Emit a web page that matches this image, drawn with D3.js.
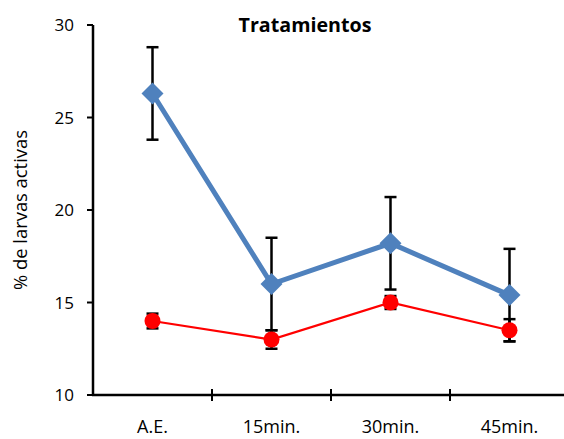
<!DOCTYPE html>
<html><head><meta charset="utf-8">
<script src="https://cdn.jsdelivr.net/npm/d3@7"></script>
<style>body{margin:0;background:#fff}text{font-family:"Open Sans",sans-serif}</style>
</head><body>
<script>
const categories = ["A.E.", "15min.", "30min.", "45min."];
const seriesBlue = [26.3, 16.0, 18.2, 15.4];
const errBlue = [2.5, 2.5, 2.5, 2.5];
const seriesRed = [14.0, 13.0, 15.0, 13.5];
const errRed = [0.4, 0.5, 0.35, 0.6];
const yTicks = [10, 15, 20, 25, 30];

const W = 564, H = 439;
const svg = d3.select("body").append("svg").attr("width", W).attr("height", H);
const x = d3.scaleBand().domain(categories).range([93, 569]);
const y = d3.scaleLinear().domain([10, 30]).range([395, 25]);
const cx = d => x(d) + x.bandwidth() / 2;

function fit(sel, target) {
  const n = sel.node(); const L = n.getComputedTextLength();
  const fs = parseFloat(sel.attr("font-size"));
  sel.attr("font-size", (fs * target / L).toFixed(2));
}

// y axis
svg.append("line").attr("x1", 93).attr("x2", 93).attr("y1", 25).attr("y2", 395).attr("stroke", "#000").attr("stroke-width", 2.5);
svg.selectAll(".yt").data(yTicks).enter().append("line")
  .attr("x1", 87).attr("x2", 93).attr("y1", d => y(d)).attr("y2", d => y(d)).attr("stroke", "#000").attr("stroke-width", 2);
svg.selectAll(".yl").data(yTicks).enter().append("text")
  .attr("x", 74).attr("y", d => y(d) + 6).attr("text-anchor", "end").attr("font-size", 17).text(d => d);
// x axis
svg.append("line").attr("x1", 92).attr("x2", 569).attr("y1", 395).attr("y2", 395).attr("stroke", "#000").attr("stroke-width", 2.5);
const bounds = categories.map(c => x(c)).slice(1);
svg.selectAll(".xt").data(bounds).enter().append("line")
  .attr("x1", d => d).attr("x2", d => d).attr("y1", 389).attr("y2", 401).attr("stroke", "#000").attr("stroke-width", 2);
svg.selectAll(".xl").data(categories).enter().append("text")
  .attr("x", d => cx(d)).attr("y", 433).attr("text-anchor", "middle").attr("font-size", 18).text(d => d);

// title & y label
const t = svg.append("text").attr("x", 305).attr("y", 32).attr("text-anchor", "middle").attr("font-size", 18).attr("font-weight", "bold").text("Tratamientos");
fit(t, 133);
const yl = svg.append("text").attr("transform", "translate(27,210) rotate(-90)").attr("text-anchor", "middle").attr("font-size", 17).text("% de larvas activas");
fit(yl, 160);

function errbars(vals, errs) {
  const g = svg.append("g");
  categories.forEach((c, i) => {
    const X = cx(c), top = y(vals[i] + errs[i]), bot = y(vals[i] - errs[i]);
    g.append("line").attr("x1", X).attr("x2", X).attr("y1", top).attr("y2", bot).attr("stroke", "#000").attr("stroke-width", 2.5);
    [top, bot].forEach(v => g.append("line").attr("x1", X - 6).attr("x2", X + 6).attr("y1", v).attr("y2", v).attr("stroke", "#000").attr("stroke-width", 2.5));
  });
}
errbars(seriesBlue, errBlue);
errbars(seriesRed, errRed);

const line = d3.line().x((d, i) => cx(categories[i])).y(d => y(d));
svg.append("path").datum(seriesRed).attr("d", line).attr("fill", "none").attr("stroke", "#FF0000").attr("stroke-width", 2.25);
svg.selectAll(".rm").data(seriesRed).enter().append("circle")
  .attr("cx", (d, i) => cx(categories[i])).attr("cy", d => y(d)).attr("r", 8).attr("fill", "#FF0000");

svg.append("path").datum(seriesBlue).attr("d", line).attr("fill", "none").attr("stroke", "#4F81BD").attr("stroke-width", 5);
svg.selectAll(".bm").data(seriesBlue).enter().append("path")
  .attr("transform", (d, i) => `translate(${cx(categories[i])},${y(d)})`)
  .attr("d", "M0,-11L11,0L0,11L-11,0Z").attr("fill", "#4F81BD");
</script>
</body></html>
